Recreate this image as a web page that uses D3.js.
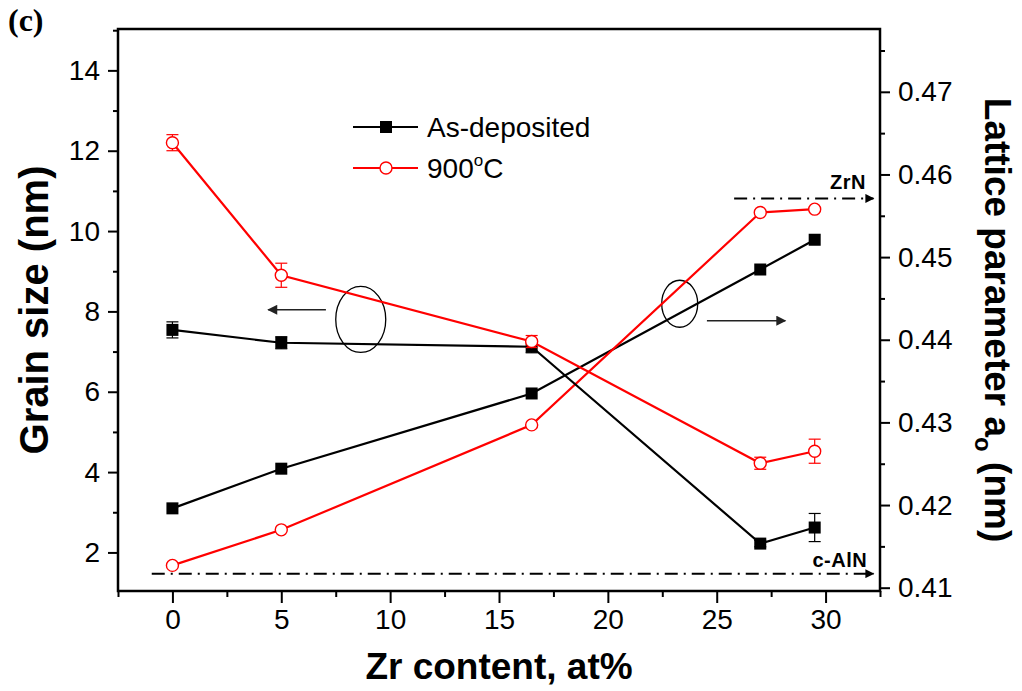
<!DOCTYPE html>
<html>
<head>
<meta charset="utf-8">
<script src="https://cdn.jsdelivr.net/npm/d3@7"></script>
<style>
  html, body { margin: 0; padding: 0; background: #fff; }
  svg { display: block; }
  text { font-family: "Liberation Sans", Arial, sans-serif; }
</style>
</head>
<body>
<svg id="chart" width="1022" height="691"></svg>
<script>
// Zr content (at%) of each film
const zrContent = [0, 5, 16.5, 27, 29.5];

// Grain size (nm), left axis
const grainAsDeposited = [7.54, 7.22, 7.12, 2.22, 2.62];
const grainAsDepositedErr = [0.2, 0.15, 0.15, 0.08, 0.35];
const grain900 = [12.2, 8.9, 7.25, 4.22, 4.52];
const grain900Err = [0.2, 0.3, 0.15, 0.15, 0.3];

// Lattice parameter a0 (nm), right axis
const latticeAsDeposited = [0.4196, 0.4244, 0.4335, 0.4485, 0.4521];
const lattice900 = [0.4127, 0.4170, 0.4297, 0.4554, 0.4558];

// Reference lattice parameters
const refLines = [
  { label: "ZrN", value: 0.4571, from: 25.8, to: 32.2, labelAt: 30.2, labelGap: 9 },
  { label: "c-AlN", value: 0.4117, from: -0.95, to: 32.2, labelAt: 29.4, labelGap: 7 }
];

// Tick values
const xTicks = [0, 5, 10, 15, 20, 25, 30];
const xMinorTicks = [-2.5, 2.5, 7.5, 12.5, 17.5, 22.5, 27.5, 32.5];
const leftTicks = [2, 4, 6, 8, 10, 12, 14];
const leftMinorTicks = [3, 5, 7, 9, 11, 13, 15];
const rightTicks = [0.41, 0.42, 0.43, 0.44, 0.45, 0.46, 0.47];
const rightMinorTicks = [0.415, 0.425, 0.435, 0.445, 0.455, 0.465, 0.475];

const svg = d3.select("#chart");
const plot = { left: 118, right: 880, top: 29, bottom: 591 };

const x = d3.scaleLinear().domain([-2.5, 32.5]).range([plot.left, plot.right]);
const yL = d3.scaleLinear().domain([1.04, 15.03]).range([plot.bottom, plot.top]);
const yR = d3.scaleLinear().domain([0.4096, 0.4776]).range([plot.bottom, plot.top]);

const RED = "#ff0000";

// Arrow heads
const defs = svg.append("defs");
function arrowMarker(id, color, w, h) {
  defs.append("marker")
    .attr("id", id)
    .attr("viewBox", "0 0 10 10")
    .attr("refX", 9).attr("refY", 5)
    .attr("markerWidth", w).attr("markerHeight", h)
    .attr("markerUnits", "userSpaceOnUse")
    .attr("orient", "auto")
    .append("path").attr("d", "M0,0 L10,5 L0,10 Z").attr("fill", color);
}
arrowMarker("arrDash", "#000", 12, 9);
arrowMarker("arrGrey", "#222", 14, 10);

// Axes
const axisG = svg.append("g");
function styleAxis(g) {
  g.select(".domain").remove();
  g.selectAll(".tick line").attr("stroke", "#000").attr("stroke-width", 2);
  g.selectAll(".tick text").attr("fill", "#000")
    .style("font-family", "'Liberation Sans', Arial, sans-serif")
    .style("font-size", "28px");
}

axisG.append("g").attr("transform", `translate(0,${plot.bottom})`)
  .call(d3.axisBottom(x).tickValues(xTicks).tickSize(12).tickPadding(6).tickFormat(d3.format("d")))
  .call(styleAxis);
axisG.append("g").attr("transform", `translate(0,${plot.bottom})`)
  .call(d3.axisBottom(x).tickValues(xMinorTicks).tickSize(6).tickFormat(""))
  .call(styleAxis);

axisG.append("g").attr("transform", `translate(${plot.left},0)`)
  .call(d3.axisLeft(yL).tickValues(leftTicks).tickSize(10).tickPadding(8).tickFormat(d3.format("d")))
  .call(styleAxis);
axisG.append("g").attr("transform", `translate(${plot.left},0)`)
  .call(d3.axisLeft(yL).tickValues(leftMinorTicks).tickSize(5).tickFormat(""))
  .call(styleAxis);

axisG.append("g").attr("transform", `translate(${plot.right},0)`)
  .call(d3.axisRight(yR).tickValues(rightTicks).tickSize(10).tickPadding(8).tickFormat(d3.format(".2f")))
  .call(styleAxis);
axisG.append("g").attr("transform", `translate(${plot.right},0)`)
  .call(d3.axisRight(yR).tickValues(rightMinorTicks).tickSize(5).tickFormat(""))
  .call(styleAxis);

// Frame
svg.append("rect")
  .attr("x", plot.left).attr("y", plot.top)
  .attr("width", plot.right - plot.left).attr("height", plot.bottom - plot.top)
  .attr("fill", "none").attr("stroke", "#000").attr("stroke-width", 2.5);

// Axis titles
svg.append("text")
  .attr("transform", `translate(48,${(plot.top + plot.bottom) / 2}) rotate(-90)`)
  .attr("text-anchor", "middle")
  .style("font-size", "40px").style("font-weight", "bold")
  .text("Grain size (nm)");

const rTitle = svg.append("text")
  .attr("transform", `translate(985,${(plot.top + plot.bottom) / 2 + 10}) rotate(90)`)
  .attr("text-anchor", "middle")
  .style("font-size", "37px").style("font-weight", "bold");
rTitle.append("tspan").text("Lattice parameter a");
rTitle.append("tspan").attr("dy", 10).style("font-size", "24px").text("o");
rTitle.append("tspan").attr("dy", -10).text(" (nm)");

svg.append("text")
  .attr("x", (plot.left + plot.right) / 2).attr("y", 679)
  .attr("text-anchor", "middle")
  .style("font-size", "37px").style("font-weight", "bold")
  .text("Zr content, at%");

svg.append("text")
  .attr("x", 8).attr("y", 31)
  .style("font-family", "'Liberation Serif', 'Times New Roman', serif")
  .style("font-size", "32px").style("font-weight", "bold")
  .text("(c)");

// Reference lines (dash-dot with arrow) and their labels
refLines.forEach(r => {
  svg.append("line")
    .attr("x1", x(r.from)).attr("x2", x(r.to))
    .attr("y1", yR(r.value)).attr("y2", yR(r.value))
    .attr("stroke", "#000").attr("stroke-width", 2)
    .attr("stroke-dasharray", "13,6,2,6")
    .attr("marker-end", "url(#arrDash)");
  svg.append("text")
    .attr("x", x(r.labelAt)).attr("y", yR(r.value) - r.labelGap)
    .style("font-size", "20px").style("font-weight", "bold")
    .style("letter-spacing", "0.5px")
    .text(r.label);
});

// Ellipses and arrows marking which axis each group belongs to
const ellipses = [
  { cx: 8.65, cy: 7.8, rx: 25, ry: 33 },
  { cx: 23.3, cy: 8.19, rx: 18, ry: 23.5 }
];
ellipses.forEach(e => {
  svg.append("ellipse")
    .attr("cx", x(e.cx)).attr("cy", yL(e.cy))
    .attr("rx", e.rx).attr("ry", e.ry)
    .attr("fill", "none").attr("stroke", "#000").attr("stroke-width", 1.3);
});
const pointers = [
  { from: 7.05, to: 4.4, y: 8.04 },
  { from: 24.55, to: 28.15, y: 7.77 }
];
pointers.forEach(p => {
  svg.append("line")
    .attr("x1", x(p.from)).attr("x2", x(p.to))
    .attr("y1", yL(p.y)).attr("y2", yL(p.y))
    .attr("stroke", "#222").attr("stroke-width", 1.5)
    .attr("marker-end", "url(#arrGrey)");
});

// Series
function drawSeries(vals, yScale, color, marker, errs) {
  const pts = zrContent.map((z, i) => [x(z), yScale(vals[i])]);
  svg.append("path")
    .attr("d", d3.line()(pts))
    .attr("fill", "none").attr("stroke", color).attr("stroke-width", 2.2);
  if (errs) {
    const g = svg.append("g").attr("stroke", color).attr("stroke-width", 1.2);
    zrContent.forEach((z, i) => {
      const xp = x(z), y1 = yScale(vals[i] + errs[i]), y2 = yScale(vals[i] - errs[i]);
      g.append("line").attr("x1", xp).attr("x2", xp).attr("y1", y1).attr("y2", y2);
      g.append("line").attr("x1", xp - 6).attr("x2", xp + 6).attr("y1", y1).attr("y2", y1);
      g.append("line").attr("x1", xp - 6).attr("x2", xp + 6).attr("y1", y2).attr("y2", y2);
    });
  }
  const mg = svg.append("g");
  pts.forEach(p => {
    if (marker === "square") {
      mg.append("rect").attr("x", p[0] - 6).attr("y", p[1] - 6)
        .attr("width", 12).attr("height", 12).attr("fill", color);
    } else {
      mg.append("circle").attr("cx", p[0]).attr("cy", p[1]).attr("r", 6)
        .attr("fill", "#fff").attr("stroke", color).attr("stroke-width", 1.4);
    }
  });
}

drawSeries(latticeAsDeposited, yR, "#000", "square");
drawSeries(lattice900, yR, RED, "circle");
drawSeries(grainAsDeposited, yL, "#000", "square", grainAsDepositedErr);
drawSeries(grain900, yL, RED, "circle", grain900Err);

// Legend
const legend = svg.append("g");
const legendRows = [
  { y: 127, color: "#000", marker: "square", label: "As-deposited" },
  { y: 168, color: RED, marker: "circle", label: "900" }
];
legendRows.forEach(r => {
  legend.append("line").attr("x1", 353).attr("x2", 418).attr("y1", r.y).attr("y2", r.y)
    .attr("stroke", r.color).attr("stroke-width", 2.2);
  if (r.marker === "square") {
    legend.append("rect").attr("x", 380).attr("y", r.y - 6).attr("width", 12).attr("height", 12)
      .attr("fill", r.color);
  } else {
    legend.append("circle").attr("cx", 386).attr("cy", r.y).attr("r", 6)
      .attr("fill", "#fff").attr("stroke", r.color).attr("stroke-width", 1.4);
  }
  const t = legend.append("text").attr("x", 427).attr("y", r.y + 10)
    .style("font-size", "28px").text(r.label);
  if (r.marker === "circle") {
    t.append("tspan").attr("dy", -12).style("font-size", "17px").text("o");
    t.append("tspan").attr("dy", 12).text("C");
  }
});
</script>
</body>
</html>
